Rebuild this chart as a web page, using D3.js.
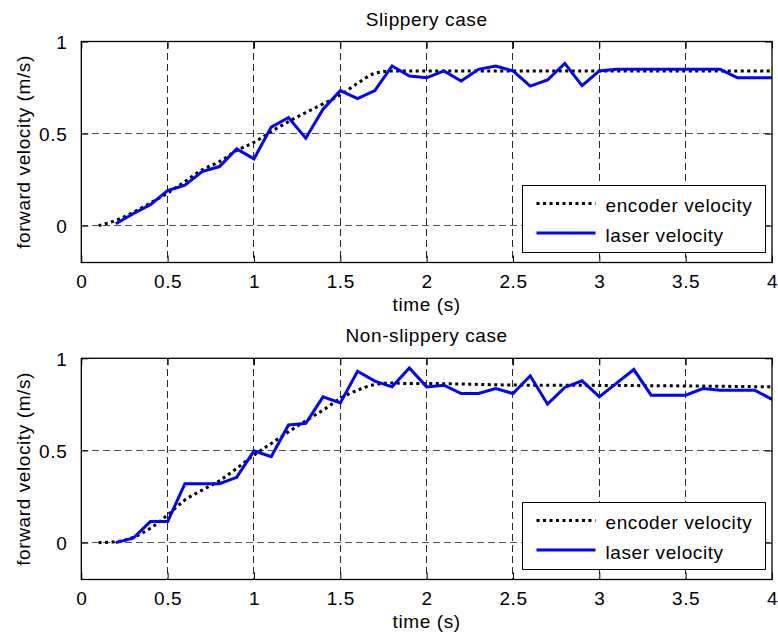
<!DOCTYPE html>
<html>
<head>
<meta charset="utf-8">
<script src="https://cdn.jsdelivr.net/npm/d3@7"></script>
<style>
  html, body { margin: 0; padding: 0; background: #fff; }
  svg text { font-family: "Liberation Sans", Arial, Helvetica, sans-serif; font-size: 19px; letter-spacing: 0.6px; fill: #000; }
</style>
</head>
<body>
<svg id="fig" width="778" height="637"></svg>
<script>
// Sample times (s)
const encoderTime = [0.1, 0.2, 0.3, 0.4, 0.5, 0.6, 0.7, 0.8, 0.9, 1.0,
                     1.1, 1.2, 1.3, 1.4, 1.5, 1.6, 1.7, 1.8, 1.9, 2.0,
                     2.5, 3.0, 3.5, 4.0];
const laserTime = [0.2, 0.3, 0.4, 0.5, 0.6, 0.7, 0.8, 0.9, 1.0, 1.1,
                   1.2, 1.3, 1.4, 1.5, 1.6, 1.7, 1.8, 1.9, 2.0, 2.1,
                   2.2, 2.3, 2.4, 2.5, 2.6, 2.7, 2.8, 2.9, 3.0, 3.1,
                   3.2, 3.3, 3.4, 3.5, 3.6, 3.7, 3.8, 3.9, 4.0];

// Slippery case (m/s)
const slipEncoder = [0, 0.029, 0.072, 0.123, 0.177, 0.24, 0.303, 0.348, 0.408, 0.452,
                     0.511, 0.565, 0.614, 0.661, 0.71, 0.773, 0.827, 0.84, 0.84, 0.84,
                     0.84, 0.84, 0.84, 0.84];
const slipLaser = [0.01, 0.065, 0.114, 0.19, 0.22, 0.294, 0.321, 0.417, 0.363, 0.535,
                   0.587, 0.475, 0.632, 0.733, 0.69, 0.733, 0.867, 0.813, 0.803, 0.84,
                   0.785, 0.849, 0.867, 0.84, 0.758, 0.791, 0.881, 0.76, 0.84, 0.849,
                   0.849, 0.849, 0.849, 0.849, 0.849, 0.849, 0.803, 0.803, 0.803];

// Non-slippery case (m/s)
const nonSlipEncoder = [0, 0.005, 0.029, 0.078, 0.15, 0.231, 0.285, 0.336, 0.403, 0.475,
                        0.538, 0.601, 0.661, 0.719, 0.782, 0.827, 0.858, 0.866, 0.863, 0.863,
                        0.855, 0.853, 0.85, 0.845];
const nonSlipLaser = [0, 0.024, 0.114, 0.114, 0.32, 0.32, 0.32, 0.354, 0.498, 0.466,
                      0.638, 0.647, 0.791, 0.758, 0.93, 0.876, 0.845, 0.948, 0.845, 0.854,
                      0.809, 0.809, 0.836, 0.809, 0.905, 0.751, 0.842, 0.878, 0.791, 0.865,
                      0.939, 0.8, 0.8, 0.8, 0.836, 0.827, 0.827, 0.827, 0.777];

const xTicks = [0, 0.5, 1, 1.5, 2, 2.5, 3, 3.5, 4];
const xTickLabels = ["0", "0.5", "1", "1.5", "2", "2.5", "3", "3.5", "4"];
const yTicks = [0, 0.5, 1];
const yTickLabels = ["0", "0.5", "1"];

const panelTitles = ["Slippery case", "Non-slippery case"];
const seriesNames = ["encoder velocity", "laser velocity"];

const svg = d3.select("#fig");
const left = 81.3, right = 772;
const panels = [
  { top: 41.5, bottom: 262.5, enc: slipEncoder, las: slipLaser, title: panelTitles[0] },
  { top: 358.3, bottom: 579.5, enc: nonSlipEncoder, las: nonSlipLaser, title: panelTitles[1] }
];

const x = d3.scaleLinear().domain([0, 4]).range([left, right]);
const tickLen = 7;

panels.forEach((p, i) => {
  const y = d3.scaleLinear().domain([-0.2, 1]).range([p.bottom, p.top]);
  const g = svg.append("g").attr("class", "panel-" + i);

  // dashed grid
  const grid = g.append("g").attr("stroke", "#2a2a2a").attr("stroke-width", 1)
    .attr("stroke-dasharray", "7,4").attr("shape-rendering", "crispEdges");
  xTicks.filter(t => t > 0 && t < 4).forEach(t => {
    grid.append("line").attr("x1", x(t)).attr("x2", x(t)).attr("y1", p.top).attr("y2", p.bottom);
  });
  yTicks.filter(t => t < 1).forEach(t => {
    grid.append("line").attr("x1", left).attr("x2", right).attr("y1", y(t)).attr("y2", y(t))
      .attr("stroke", "#555");
  });

  // ticks on all four sides, pointing inward
  const axB = d3.axisBottom(x).tickValues(xTicks).tickSize(-tickLen).tickSizeOuter(0)
    .tickFormat((d, k) => xTickLabels[k]).tickPadding(tickLen + 9);
  const gB = g.append("g").attr("transform", `translate(0,${p.bottom})`).call(axB);
  const axT = d3.axisTop(x).tickValues(xTicks).tickSize(-tickLen).tickSizeOuter(0).tickFormat("");
  const gT = g.append("g").attr("transform", `translate(0,${p.top})`).call(axT);
  const axL = d3.axisLeft(y).tickValues(yTicks).tickSize(-tickLen).tickSizeOuter(0)
    .tickFormat((d, k) => yTickLabels[k]).tickPadding(tickLen + 7);
  const gL = g.append("g").attr("transform", `translate(${left},0)`).call(axL);
  const axR = d3.axisRight(y).tickValues(yTicks).tickSize(-tickLen).tickSizeOuter(0).tickFormat("");
  const gR = g.append("g").attr("transform", `translate(${right},0)`).call(axR);
  [gB, gT, gL, gR].forEach(a => {
    a.select(".domain").remove();
    a.selectAll("line").attr("stroke", "#000").attr("stroke-width", 1);
    a.selectAll("text").attr("font-family", null).attr("font-size", null).attr("fill", "#000");
  });
  gB.selectAll("text").attr("dy", null).attr("y", 25.5);
  gL.selectAll("text").attr("dy", "0.36em");

  // data lines
  const lineEnc = d3.line().x((d, k) => x(encoderTime[k])).y(d => y(d)).curve(d3.curveMonotoneX);
  const lineLas = d3.line().x((d, k) => x(laserTime[k])).y(d => y(d));
  g.append("path").datum(p.enc).attr("d", lineEnc)
    .attr("fill", "none").attr("stroke", "#000").attr("stroke-width", 3)
    .attr("stroke-dasharray", "3,3.5");
  g.append("path").datum(p.las).attr("d", lineLas)
    .attr("fill", "none").attr("stroke", "#0000ff").attr("stroke-width", 3)
    .attr("stroke-linejoin", "miter");

  // axes box
  g.append("rect").attr("x", left).attr("y", p.top).attr("width", right - left)
    .attr("height", p.bottom - p.top).attr("fill", "none").attr("stroke", "#000")
    .attr("stroke-width", 1.3);

  // legend
  const lw = 243, lh = 67;
  const lx = right - 6.5 - lw, ly = p.bottom - 10 - lh;
  const lg = g.append("g").attr("transform", `translate(${lx},${ly})`);
  lg.append("rect").attr("width", lw).attr("height", lh).attr("fill", "#fff")
    .attr("stroke", "#000").attr("stroke-width", 1);
  lg.append("line").attr("x1", 14).attr("x2", 73).attr("y1", 18).attr("y2", 18)
    .attr("stroke", "#000").attr("stroke-width", 3).attr("stroke-dasharray", "3,3.5");
  lg.append("line").attr("x1", 14).attr("x2", 73).attr("y1", 47.5).attr("y2", 47.5)
    .attr("stroke", "#0000ff").attr("stroke-width", 3);
  lg.append("text").attr("x", 83).attr("y", 26.5).text(seriesNames[0]);
  lg.append("text").attr("x", 83).attr("y", 56.5).text(seriesNames[1]);

  // titles and labels
  g.append("text").attr("x", (left + right) / 2).attr("y", p.top - 16)
    .attr("text-anchor", "middle").text(p.title);
  g.append("text").attr("x", (left + right) / 2).attr("y", p.bottom + 48)
    .attr("text-anchor", "middle").text("time (s)");
  g.append("text").attr("transform", `translate(29.5,${(p.top + p.bottom) / 2}) rotate(-90)`)
    .attr("text-anchor", "middle").text("forward velocity (m/s)");
});
</script>
</body>
</html>
